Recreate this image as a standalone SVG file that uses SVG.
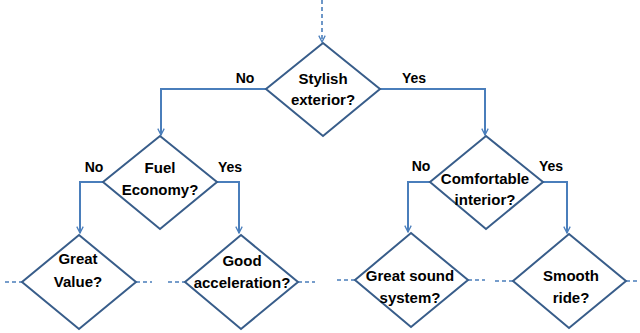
<svg xmlns="http://www.w3.org/2000/svg" width="640" height="333" viewBox="0 0 640 333">
<defs>
<marker id="arr" viewBox="0 0 10 10" refX="9" refY="5" markerWidth="8" markerHeight="8" markerUnits="userSpaceOnUse" orient="auto">
<path d="M1,1 L9,5 L1,9" fill="none" stroke="#4A7EBB" stroke-width="1.6"/>
</marker>
</defs>
<style>
.d{fill:#fff;stroke:#385D8A;stroke-width:2}
.c{fill:none;stroke:#4A7EBB;stroke-width:2}
.dash{fill:none;stroke:#4A7EBB;stroke-width:1.6;stroke-dasharray:4 3}
.t{font-family:"Liberation Sans",Arial,sans-serif;font-weight:bold;font-size:15px;fill:#000;text-anchor:middle}
.l{font-family:"Liberation Sans",Arial,sans-serif;font-weight:bold;font-size:14px;fill:#000;text-anchor:middle}
</style>
<rect width="640" height="333" fill="#fff"/>
<g id="connectors">
<path class="dash" d="M322,0 V42" marker-end="url(#arr)"/>
<path class="c" d="M267,89 H161 V135" marker-end="url(#arr)"/>
<path class="c" d="M380,89 H485 V135" marker-end="url(#arr)"/>
<path class="c" d="M103,182 H80 V233" marker-end="url(#arr)"/>
<path class="c" d="M217,182 H239 V233" marker-end="url(#arr)"/>
<path class="c" d="M430,182 H408 V232" marker-end="url(#arr)"/>
<path class="c" d="M543,182 H567 V233" marker-end="url(#arr)"/>
<path class="dash" d="M5,282 H22"/>
<path class="dash" d="M136,282 H152"/>
<path class="dash" d="M168,282 H185"/>
<path class="dash" d="M298,282 H315"/>
<path class="dash" d="M337,280 H355"/>
<path class="dash" d="M468,280 H485"/>
<path class="dash" d="M495,281 H513"/>
<path class="dash" d="M626,281 H640"/>
<text class="l" x="245" y="83">No</text>
<text class="l" x="414" y="83">Yes</text>
<text class="l" x="94" y="172">No</text>
<text class="l" x="230" y="172">Yes</text>
<text class="l" x="421" y="171">No</text>
<text class="l" x="551" y="171">Yes</text>
</g>
<g id="stylish">
<path class="d" d="M323,43 L380,89 L323,136 L266,89 Z"/>
<text class="t" x="323" y="84">Stylish</text>
<text class="t" x="323" y="105">exterior?</text>
</g>
<g id="fuel">
<path class="d" d="M160,136 L217,182 L160,229 L103,182 Z"/>
<text class="t" x="160" y="173">Fuel</text>
<text class="t" x="160" y="195">Economy?</text>
</g>
<g id="comfortable">
<path class="d" d="M486,136 L543,182 L486,229 L430,182 Z"/>
<text class="t" x="485" y="184">Comfortable</text>
<text class="t" x="485" y="205">interior?</text>
</g>
<g id="value">
<path class="d" d="M79,235 L136,282 L79,329 L22,282 Z"/>
<text class="t" x="78" y="264">Great</text>
<text class="t" x="78" y="287">Value?</text>
</g>
<g id="acceleration">
<path class="d" d="M241,235 L298,282 L241,329 L185,282 Z"/>
<text class="t" x="242" y="266">Good</text>
<text class="t" x="242" y="288">acceleration?</text>
</g>
<g id="sound">
<path class="d" d="M411,233 L468,280 L411,327 L355,280 Z"/>
<text class="t" x="410" y="281">Great sound</text>
<text class="t" x="410" y="303">system?</text>
</g>
<g id="smooth">
<path class="d" d="M569,234 L626,281 L569,328 L513,281 Z"/>
<text class="t" x="571" y="281">Smooth</text>
<text class="t" x="571" y="303">ride?</text>
</g>
</svg>
